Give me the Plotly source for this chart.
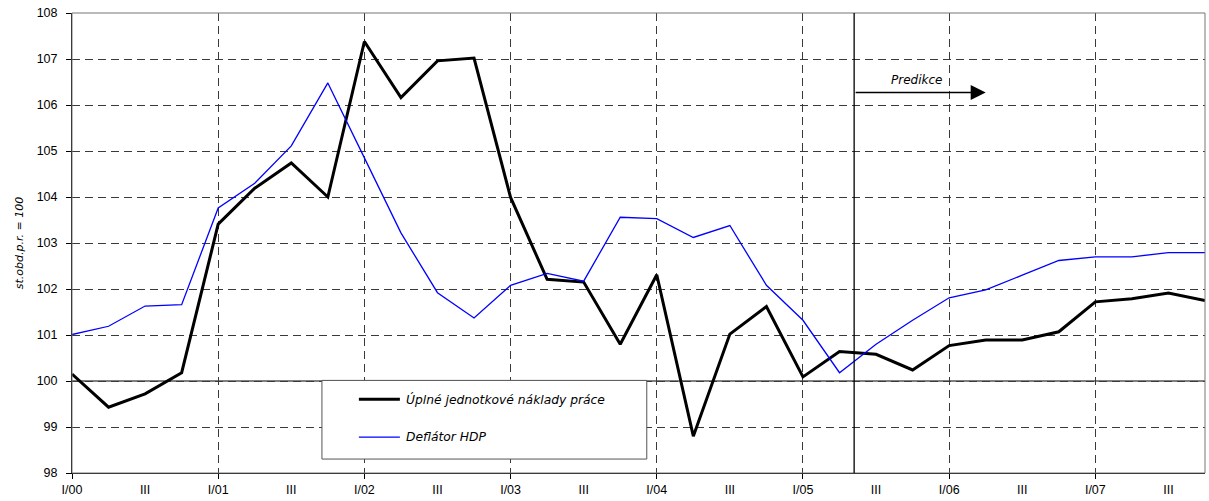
import plotly.graph_objects as go

# --- data ---------------------------------------------------------------
quarters = [f"{q}/{y:02d}" for y in range(0, 8) for q in ["I", "II", "III", "IV"]]
tick_labels = ["I/00", "III", "I/01", "III", "I/02", "III", "I/03", "III",
               "I/04", "III", "I/05", "III", "I/06", "III", "I/07", "III"]

naklady_prace = [100.15, 99.43, 99.72, 100.18, 103.41, 104.19, 104.74, 104.00,
                 107.38, 106.16, 106.96, 107.02, 103.99, 102.21, 102.15, 100.80,
                 102.31, 98.80, 101.02, 101.62, 100.09, 100.64, 100.58, 100.24,
                 100.77, 100.89, 100.89, 101.07, 101.72, 101.79, 101.91, 101.75]

deflator_hdp = [101.01, 101.19, 101.63, 101.66, 103.76, 104.30, 105.11, 106.48,
                104.85, 103.22, 101.92, 101.37, 102.08, 102.34, 102.17, 103.56,
                103.53, 103.12, 103.38, 102.08, 101.32, 100.18, 100.80, 101.32,
                101.81, 101.98, 102.30, 102.62, 102.70, 102.70, 102.79, 102.79]

series_names = ["Úplné jednotkové náklady práce", "Deflátor HDP"]
y_title = "st.obd.p.r. = 100"
pred_label = "Predikce"
pred_start = 21.4      # position (in quarters) of the forecast divider
pred_arrow_end = 25.0
pred_arrow_level = 106.27
base_level = 100

idx = list(range(len(quarters)))
tick_pos = idx[::2]

FONT = "Liberation Sans, Arial, sans-serif"
IFONT = "DejaVu Sans, sans-serif"
GRID = "#3a3a3a"
DASH = "8px,5px"

fig = go.Figure()
fig.add_trace(go.Scatter(x=idx, y=naklady_prace, mode="lines", name=series_names[0],
                         line=dict(color="black", width=3), showlegend=False,
                         text=quarters, hovertemplate="%{text}: %{y}<extra></extra>"))
fig.add_trace(go.Scatter(x=idx, y=deflator_hdp, mode="lines", name=series_names[1],
                         line=dict(color="#0000ff", width=1.3), showlegend=False,
                         text=quarters, hovertemplate="%{text}: %{y}<extra></extra>"))

fig.update_layout(
    width=1209, height=501,
    margin=dict(l=72, r=4, t=13, b=26),
    paper_bgcolor="white", plot_bgcolor="white",
    font=dict(family=FONT, size=12.5, color="black"),
    showlegend=False,
)

fig.update_xaxes(
    range=[0, len(quarters) - 1],
    tickmode="array", tickvals=tick_pos, ticktext=tick_labels,
    ticks="", showgrid=False, zeroline=False,
    showline=True, linecolor="black", linewidth=1,
    ticklabelstandoff=5,
    tickfont=dict(family=FONT, size=12.5),
    minor=dict(tickmode="linear", tick0=0, dtick=4, ticks="outside", ticklen=5,
               tickcolor="black", showgrid=True, gridcolor=GRID, griddash=DASH,
               gridwidth=1),
)
fig.update_yaxes(
    range=[98, 108], dtick=1, tick0=98,
    ticks="outside", ticklen=5, tickcolor="black",
    showgrid=True, gridcolor=GRID, griddash=DASH, gridwidth=1,
    zeroline=False, showline=True, linecolor="black", linewidth=1,
    ticklabelstandoff=6,
    tickfont=dict(family=FONT, size=12.5),
    title=dict(text=y_title, standoff=10,
               font=dict(family=IFONT, size=11, style="italic")),
)

# frame of plot area
fig.add_shape(type="rect", xref="paper", yref="paper", x0=0, x1=1, y0=0, y1=1,
              line=dict(color="#777777", width=1), layer="above")
# base line at 100
fig.add_shape(type="line", xref="paper", yref="y", x0=0, x1=1,
              y0=base_level, y1=base_level, line=dict(color="black", width=1),
              layer="between")
# forecast divider
fig.add_shape(type="line", xref="x", yref="paper", x0=pred_start, x1=pred_start,
              y0=0, y1=1, line=dict(color="black", width=1.3), layer="above")
# forecast arrow
fig.add_annotation(x=pred_arrow_end, y=pred_arrow_level, ax=pred_start, ay=pred_arrow_level,
                   xref="x", yref="y", axref="x", ayref="y", text="",
                   showarrow=True, arrowhead=2, arrowsize=2, arrowwidth=1.5,
                   arrowcolor="black")
fig.add_annotation(x=(pred_start + pred_arrow_end) / 2 - 0.1, y=pred_arrow_level,
                   xref="x", yref="y", yshift=13, text=pred_label, showarrow=False,
                   font=dict(family=IFONT, size=12, style="italic"))

# manual legend box
lx0, lx1, ly0, ly1 = 0.2206, 0.5073, 0.0303, 0.2013
fig.add_shape(type="rect", xref="paper", yref="paper", x0=lx0, x1=lx1, y0=ly0, y1=ly1,
              fillcolor="white", line=dict(color="#555555", width=1), layer="above")
leg_rows = [0.1602, 0.0779]
leg_styles = [dict(color="black", width=3), dict(color="#0000ff", width=1.3)]
for name, yy, st in zip(series_names, leg_rows, leg_styles):
    fig.add_shape(type="line", xref="paper", yref="paper", x0=0.2532, x1=0.2894,
                  y0=yy, y1=yy, line=st, layer="above")
    fig.add_annotation(x=0.2929, y=yy, xref="paper", yref="paper", text=name,
                       showarrow=False, xanchor="left", yanchor="middle",
                       font=dict(family=IFONT, size=12.3, style="italic"))

fig.write_html("out.html",
               config={"displayModeBar": False},
               post_script="document.body.style.margin='0';"
                           "document.body.style.overflow='hidden';")
